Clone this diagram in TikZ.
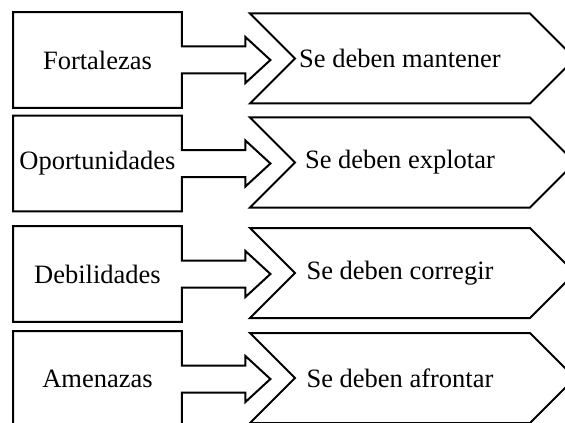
\documentclass[tikz,border=0pt]{standalone}
\usepackage{fontspec}
\setmainfont{Liberation Serif}
\usetikzlibrary{shapes.symbols,calc}

\begin{document}
\begin{tikzpicture}[x=0.5pt,y=-0.5pt,
            caja/.style={minimum width=84pt,minimum height=47.5pt,inner sep=0pt,
              font=\fontsize{13.25}{15}\selectfont},
            flecha/.style={draw,line width=1pt,line join=miter},
            chevron/.style={draw,line width=1pt,shape=signal,signal from=west,signal to=east,
              signal pointer angle=90,minimum width=162.5pt,minimum height=45pt,inner sep=0pt,
              font=\fontsize{13.25}{15}\selectfont,execute at begin node={\hspace*{-12.5pt}}}]
              \clip (0,0) rectangle (565,422);
              \node[caja] (fort) at (97.5,60) {Fortalezas};
              \node[caja] (opor) at (97.5,163.5) {Oportunidades};
              \node[caja] (debi) at (97.5,274) {Debilidades};
              \node[caja] (amen) at (97.5,379) {Amenazas};
              \node[chevron] (mant) at (412.5,58.5) {Se deben mantener};
              \node[chevron] (expl) at (412.5,162.5) {Se deben explotar};
              \node[chevron] (corr) at (412.5,273) {Se deben corregir};
              \node[chevron] (afro) at (412.5,378) {Se deben afrontar};
              % caja y flecha en un solo contorno
              \foreach \c in {fort,opor,debi,amen}
                \draw[flecha] (\c.north west) -- (\c.north east) -- ($(\c.east)+(0,-13.5)$)
                  -- ++(63.5,0) -- ++(0,-9.5) -- ($(\c.east)+(88.5,0)$) -- ($(\c.east)+(63.5,23)$)
                  -- ++(0,-9.5) -- ($(\c.east)+(0,13.5)$) -- (\c.south east) -- (\c.south west) -- cycle;
        \end{tikzpicture}
\end{document}
